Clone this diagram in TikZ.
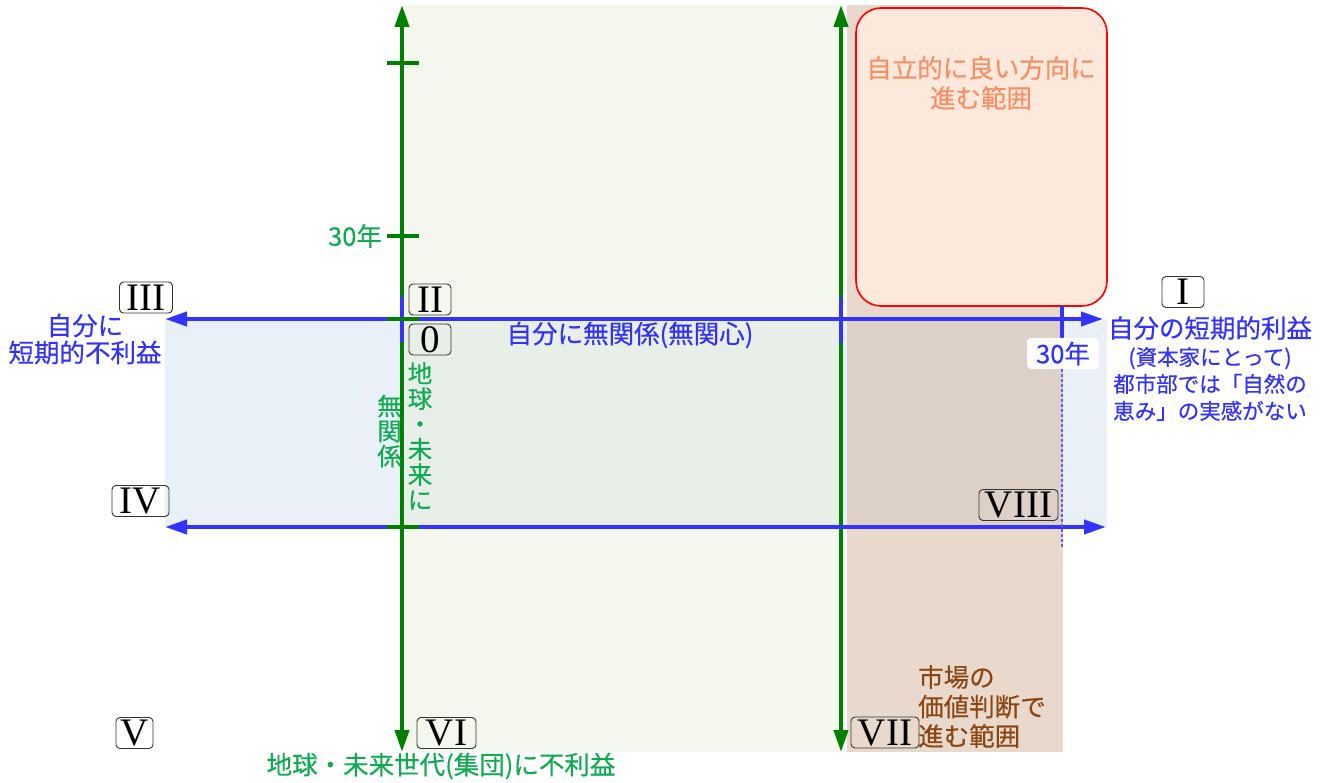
\documentclass[tikz,border=0pt]{standalone}
\usepackage{fontspec}
\setmainfont{Noto Sans CJK JP}[FakeBold=0.4]
\newfontfamily\rmn{Liberation Serif}
\usetikzlibrary{arrows.meta}
\definecolor{axgreen}{RGB}{0,128,0}
\definecolor{axblue}{RGB}{51,51,255}
\definecolor{tblue}{RGB}{50,50,250}
\definecolor{tgreen}{RGB}{16,170,80}
\definecolor{tbrown}{RGB}{140,70,20}
\definecolor{tsalmon}{RGB}{245,145,105}
\definecolor{bggreen}{RGB}{231,238,218}
\definecolor{bgbrown}{RGB}{204,171,142}
\definecolor{bandblue}{RGB}{234,240,247}
\definecolor{redfill}{RGB}{253,233,219}
\definecolor{dotblue}{RGB}{95,95,255}
\begin{document}
\begin{tikzpicture}[x=1pt,y=-1pt,
  rn/.style={draw=black!80, rounded corners=4pt, line width=0.9pt,
    font=\rmn\fontsize{39}{39}\selectfont, inner sep=0pt,
    minimum height=31pt, text height=25.8pt, text depth=0pt},
  jp/.style={font=\fontsize{25.5}{28}\selectfont, inner sep=0pt, align=center},
  gaxis/.style={draw=axgreen, line width=4pt, {Triangle[length=22pt,width=14pt]}-{Triangle[length=22pt,width=14pt]}},
  baxis/.style={draw=axblue, line width=4pt, {Triangle[length=22pt,width=14pt]}-{Triangle[length=22pt,width=14pt]}},
  gtick/.style={draw=axgreen, line width=4pt},
  btick/.style={draw=axblue, line width=4pt}]
\useasboundingbox (0,0) rectangle (1327,783);
% band and backgrounds
\fill[bandblue] (165,319) rectangle (1107,527);
\fill[bggreen, opacity=0.45] (405,5) rectangle (841,752);
\fill[bgbrown, opacity=0.45] (847,5) rectangle (1063,752);
% red box
\draw[red, line width=1.6pt, fill=redfill, rounded corners=25pt] (856,8) rectangle (1107,306);
% coordinates
\coordinate (g1t) at (402,5);   \coordinate (g1b) at (402,752);
\coordinate (g2t) at (841,5);   \coordinate (g2b) at (841,752);
\coordinate (b1l) at (165,319); \coordinate (b1r) at (1103,319);
\coordinate (b2l) at (165,527); \coordinate (b2r) at (1106,527);
% green axes
\draw[gaxis] (g1b) -- (g1t);
\draw[gaxis] (g2b) -- (g2t);
% blue axes
\draw[baxis] (b1l) -- (b1r);
\draw[baxis] (b2l) -- (b2r);
% blue ticks
\coordinate (bt1a) at (402,297); \coordinate (bt1b) at (402,342);
\coordinate (bt2a) at (841,297); \coordinate (bt2b) at (841,343);
\coordinate (bt3a) at (1062,306); \coordinate (bt3b) at (1062,340);
\draw[btick] (bt1a) -- (bt1b);
\draw[btick] (bt2a) -- (bt2b);
\draw[btick] (bt3a) -- (bt3b);
% green ticks
\foreach \yy/\nm in {63/ta,236/tb,319/tc,527/td}{
  \coordinate (\nm l) at (387,\yy); \coordinate (\nm r) at (419,\yy);
  \draw[gtick] (\nm l) -- (\nm r);
}
% blue 30 label and dotted line
\node[jp, fill=white, rounded corners=4pt, minimum width=72pt, minimum height=31pt, text=tblue] (x30) at (1063,353.5) {30年};
\coordinate (dotend) at (1062,548);
\draw[dotblue, line width=2.4pt, dash pattern=on 2.5pt off 2.5pt] (x30.south -| dotend) -- (dotend);
% roman numeral boxes
\node[rn, minimum width=53pt] (n3) at (146,297.5) {III};
\node[rn, minimum width=42pt] (n2) at (430,299.5) {II};
\node[rn, minimum width=42pt] (n0) at (430,339.5) {0};
\node[rn, minimum width=42pt] (n1) at (1183,292) {I};
\node[rn, minimum width=57pt] (n4) at (140.5,501) {IV};
\node[rn, minimum width=79pt] (n8) at (1018.5,505) {VIII};
\node[rn, minimum width=37pt] (n5) at (134.5,733) {V};
\node[rn, minimum width=59pt] (n6) at (446.5,733) {VI};
\node[rn, minimum width=68pt] (n7) at (885,732.5) {VII};
% texts
\node[jp, text=tsalmon, font=\fontsize{25.5}{30}\selectfont] (rt) at (981,83) {自立的に良い方向に\\進む範囲};
\node[jp, text=tblue, font=\fontsize{25.5}{27}\selectfont] (tl) at (85,339) {自分に\\短期的不利益};
\node[jp, text=tblue] (tm) at (630,335) {自分に無関係(無関心)};
\node[jp, text=tblue] (tr1) at (1210,328) {自分の短期的利益};
\node[jp, text=tblue, font=\fontsize{21.5}{27}\selectfont] (tr2) at (1210,384) {(資本家にとって)\\都市部では「自然の\\恵み」の実感がない};
\node[jp, text=tgreen] (y30) at (355,236) {30年};
\node[jp, text=tgreen, font=\fontsize{24.5}{25.3}\selectfont] (v1) at (420,436) {地\\球\\・\\未\\来\\に};
\node[jp, text=tgreen, font=\fontsize{24.5}{25}\selectfont] (v2) at (389.5,431) {無\\関\\係};
\node[jp, text=tgreen] (bot) at (441,766) {地球・未来世代(集団)に不利益};
\node[jp, text=tbrown, align=left, anchor=west, font=\fontsize{25.5}{29.5}\selectfont] (br) at (918,706.5) {市場の\\価値判断で\\進む範囲};
\end{tikzpicture}
\end{document}
